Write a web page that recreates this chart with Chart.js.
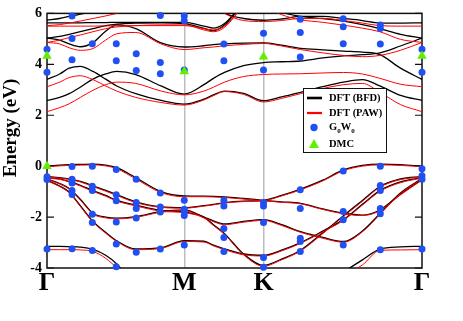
<!DOCTYPE html>
<html><head><meta charset="utf-8">
<script src="https://cdn.jsdelivr.net/npm/chart.js@4.4.0/dist/chart.umd.min.js"></script>
<style>html,body{margin:0;padding:0;background:#fff;}canvas{display:block;}</style>
</head><body>
<canvas id="c" width="463" height="321"></canvas>
<script>
// k-path positions (Γ-M-K-Γ, hexagonal zone, reciprocal units)
const kGrid = [0, 0.08, 0.14, 0.21, 0.29, 0.37, 0.44, 0.56, 0.72, 0.866, 0.99, 1.05, 1.12, 1.24, 1.366, 1.48, 1.60, 1.74, 1.87, 1.99, 2.10, 2.23, 2.366];
const kTicks = [0, 0.866, 1.366, 2.366];
const kLabels = ['Γ', 'M', 'K', 'Γ'];
const yTicks = [6, 4, 2, 0, -2, -4];

// DFT (BFD) bands, energies (eV) on kGrid
const bfdBands = [
  [0.0,0.04,0.06,0.07,0.08,0.04,-0.06,-0.45,-1.0,-1.17,-1.18,-1.19,-1.21,-1.27,-1.34,-1.40,-1.46,-1.68,-1.85,-1.92,-1.72,-1.1,-0.52],
  [-0.41,-0.45,-0.5,-0.6,-0.77,-0.95,-1.12,-1.40,-1.60,-1.63,-1.55,-1.5,-1.43,-1.37,-1.34,-1.15,-0.9,-0.55,-0.15,0.03,0.08,0.06,0.0],
  [-0.45,-0.5,-0.6,-0.75,-0.96,-1.15,-1.34,-1.53,-1.74,-1.8,-2.0,-2.3,-2.65,-3.45,-3.9,-3.65,-3.3,-2.62,-1.95,-1.35,-0.8,-0.5,-0.41],
  [-0.5,-0.68,-0.88,-1.3,-1.85,-2.0,-2.04,-1.98,-1.78,-1.72,-2.0,-2.15,-2.27,-2.17,-2.1,-2.3,-2.57,-2.8,-2.96,-2.55,-1.87,-1.05,-0.48],
  [-0.55,-0.78,-1.02,-1.55,-2.17,-2.6,-2.93,-3.25,-3.2,-2.93,-2.95,-3.1,-3.25,-3.45,-3.5,-3.3,-3.0,-2.55,-2.1,-1.5,-0.96,-0.62,-0.45],
  [-3.15,-3.15,-3.16,-3.18,-3.27,-3.5,-3.84,-4.8,null,null,null,null,null,null,null,null,null,-4.6,-4.15,-3.68,-3.26,-3.17,-3.15],
  [2.58,2.7,2.85,3.1,3.42,3.62,3.72,3.6,3.15,2.83,3.2,3.45,3.68,3.95,4.07,4.1,4.13,4.25,4.33,4.38,4.45,4.72,5.03],
  [3.41,3.62,3.85,3.92,3.72,3.42,3.15,2.85,2.58,2.44,2.63,2.8,2.95,2.86,2.57,2.72,2.9,3.12,3.3,3.4,3.15,2.78,2.58],
  [5.03,4.95,4.8,4.69,4.85,5.3,5.55,5.4,4.84,4.68,4.73,4.77,4.8,4.83,4.84,4.75,4.63,4.57,4.52,4.48,4.38,3.85,3.41],
  [5.03,5.1,5.18,5.28,5.4,5.52,5.58,5.62,5.63,5.6,5.41,5.32,5.54,6.4,7.0,null,null,null,null,null,null,null,null],
  [5.63,5.63,5.63,5.63,5.64,5.64,5.65,5.65,5.65,5.65,5.5,5.42,5.6,6.4,7.0,null,null,null,null,null,null,null,null],
  [5.73,5.8,5.88,5.97,6.1,6.3,6.6,null,null,null,null,null,null,null,null,null,null,null,null,null,null,null,null],
  [null,null,null,null,null,null,null,null,null,null,null,6.4,6.02,5.8,5.73,5.78,5.88,5.88,5.8,5.72,5.62,5.62,5.63],
  [null,null,null,null,null,null,null,null,null,null,null,null,null,null,6.4,6.05,5.88,5.8,5.7,5.56,5.4,5.18,5.03]
];

// DFT (PAW) bands
const pawBands = [
  [-0.02,0.01,0.03,0.04,0.05,0.01,-0.1,-0.5,-1.04,-1.2,-1.2,-1.21,-1.23,-1.29,-1.36,-1.42,-1.48,-1.7,-1.87,-1.94,-1.75,-1.13,-0.55],
  [-0.43,-0.47,-0.52,-0.62,-0.8,-0.98,-1.15,-1.43,-1.62,-1.65,-1.57,-1.52,-1.45,-1.39,-1.36,-1.17,-0.93,-0.58,-0.18,0.0,0.05,0.03,-0.02],
  [-0.47,-0.52,-0.62,-0.78,-0.99,-1.18,-1.37,-1.56,-1.77,-1.83,-2.03,-2.33,-2.68,-3.48,-3.93,-3.68,-3.33,-2.65,-1.98,-1.38,-0.83,-0.53,-0.43],
  [-0.52,-0.7,-0.9,-1.33,-1.88,-2.03,-2.07,-2.01,-1.81,-1.75,-2.03,-2.18,-2.3,-2.2,-2.13,-2.33,-2.6,-2.83,-2.99,-2.58,-1.9,-1.08,-0.5],
  [-0.57,-0.8,-1.05,-1.58,-2.2,-2.63,-2.96,-3.28,-3.23,-2.96,-2.98,-3.13,-3.28,-3.48,-3.53,-3.33,-3.03,-2.58,-2.13,-1.53,-0.99,-0.65,-0.47],
  [-3.28,-3.28,-3.28,-3.29,-3.35,-3.62,-4.0,-4.8,null,null,null,null,null,null,null,null,null,-4.8,-4.3,-3.88,-3.31,-3.29,-3.28],
  [2.14,2.3,2.45,2.7,2.98,3.2,3.3,3.25,2.95,2.8,2.95,3.1,3.3,3.52,3.60,3.62,3.63,3.66,3.68,3.62,3.45,3.22,3.12],
  [3.12,3.3,3.48,3.55,3.4,3.15,2.95,2.7,2.5,2.4,2.6,2.77,2.93,2.82,2.52,2.66,2.85,3.05,3.2,3.25,2.9,2.42,2.14],
  [4.86,4.8,4.65,4.55,4.62,4.95,5.2,5.25,4.8,4.58,4.65,4.68,4.73,4.78,4.82,4.72,4.58,4.45,4.35,4.3,4.35,4.55,4.86],
  [4.86,4.95,5.05,5.15,5.28,5.4,5.47,5.52,5.55,5.55,5.35,5.28,5.45,6.3,7.0,null,null,null,null,null,null,null,null],
  [5.5,5.5,5.5,5.5,5.5,5.51,5.51,5.52,5.52,5.52,5.4,5.35,5.5,6.3,7.0,null,null,null,null,null,null,null,null],
  [5.52,5.56,5.62,5.7,5.8,5.9,6.0,6.2,null,null,null,null,null,null,null,null,null,null,null,null,null,null,null],
  [null,null,null,null,null,null,null,null,null,null,null,6.3,6.0,5.72,5.68,5.72,5.8,5.8,5.72,5.62,5.52,5.5,5.5],
  [null,null,null,null,null,null,null,null,null,null,null,null,null,null,6.3,5.95,5.75,5.65,5.54,5.42,5.28,4.98,4.86]
];

// G0W0 quasiparticle energies at sampled k-points
const gwK = [0, 0.158, 0.286, 0.437, 0.563, 0.715, 0.866, 1.116, 1.366, 1.598, 1.869, 2.103, 2.366];
const gwE = [
  [4.59, 3.69, -0.42, -0.52, -3.25],
  [5.90, 5.01, 4.18, -0.01, -0.51, -0.66, -0.96, -1.11, -3.24],
  [4.81, 0.0, -0.79, -0.96, -1.89, -2.21, -3.31],
  [4.81, 4.14, -0.13, -1.12, -1.36, -2.19, -3.06, -3.95],
  [4.42, 3.76, -0.51, -1.43, -1.66, -2.04, -3.38],
  [5.92, 4.07, 3.63, -1.05, -1.6, -1.8, -3.25],
  [5.90, 5.71, 3.78, -1.34, -1.69, -1.76, -1.94, -3.10],
  [4.80, 4.14, -1.34, -1.56, -2.45, -2.80, -3.35],
  [5.22, 3.78, -1.43, -1.56, -2.21, -3.59, -3.97],
  [5.77, 5.25, 4.29, -0.93, -1.66, -2.83, -2.96, -3.35],
  [5.79, 5.48, 4.81, -0.19, -1.78, -2.10, -3.10],
  [5.54, 5.41, 4.80, 0.0, -0.76, -0.96, -1.66, -1.87, -3.28],
  [4.59, 3.69, -0.10, -0.38, -0.51, -3.25]
];

// DMC gaps
const dmcK = [0, 0, 0.866, 1.366, 2.366];
const dmcE = [4.33, 0.0, 3.72, 4.30, 4.33];

function bandDataset(energies, color, width, order) {
  return {
    type: 'line',
    data: energies.map((e, i) => ({ x: kGrid[i], y: e })),
    borderColor: color, borderWidth: width, pointRadius: 0,
    fill: false, cubicInterpolationMode: 'monotone', spanGaps: false,
    order: order, clip: 0
  };
}

const datasets = [];
bfdBands.forEach(b => datasets.push(bandDataset(b, '#000000', 1.3, 3)));
pawBands.forEach(b => datasets.push(bandDataset(b, '#ff0000', 1.0, 2)));
const gwPoints = [];
gwK.forEach((k, i) => gwE[i].forEach(e => gwPoints.push({ x: k, y: e })));
datasets.push({ type: 'line', showLine: false, data: gwPoints, pointRadius: 3.5, pointBackgroundColor: '#2150f2', pointBorderWidth: 0, order: 1, clip: false });
datasets.push({ type: 'line', showLine: false, data: dmcK.map((k, i) => ({ x: k, y: dmcE[i] })), pointStyle: 'triangle', pointRadius: 5.5, pointBackgroundColor: '#5ef000', pointBorderWidth: 0, order: 0, clip: false });

const deco = {
  id: 'deco',
  beforeDatasetsDraw(chart) {
    const { ctx, chartArea: a, scales } = chart;
    ctx.save();
    ctx.strokeStyle = '#111'; ctx.lineWidth = 1.5;
    ctx.strokeRect(a.left, a.top, a.right - a.left, a.bottom - a.top);
    ctx.lineWidth = 1.2;
    yTicks.forEach(v => {
      const y = scales.y.getPixelForValue(v);
      ctx.beginPath();
      ctx.moveTo(a.left, y); ctx.lineTo(a.left + 7, y);
      ctx.moveTo(a.right - 7, y); ctx.lineTo(a.right, y);
      ctx.stroke();
    });
    ctx.restore();
  },
  afterDraw(chart) {
    const { ctx } = chart;
    ctx.save();
    ctx.translate(11, 128); ctx.rotate(-Math.PI / 2);
    ctx.font = 'bold 19px "Liberation Serif"'; ctx.fillStyle = '#000';
    ctx.textAlign = 'center'; ctx.textBaseline = 'middle';
    ctx.fillText('Energy (eV)', 0, 0);
    ctx.restore();
    ctx.save();
    ctx.fillStyle = '#fff'; ctx.fillRect(303, 88, 83, 64);
    ctx.strokeStyle = '#111'; ctx.lineWidth = 1; ctx.strokeRect(303.5, 88.5, 83, 64);
    ctx.lineWidth = 2.6; ctx.strokeStyle = '#000';
    ctx.beginPath(); ctx.moveTo(307, 98); ctx.lineTo(322, 98); ctx.stroke();
    ctx.strokeStyle = '#ff0000'; ctx.lineWidth = 2.2;
    ctx.beginPath(); ctx.moveTo(307, 113); ctx.lineTo(322, 113); ctx.stroke();
    ctx.fillStyle = '#2150f2'; ctx.beginPath(); ctx.arc(314, 127.5, 3.7, 0, Math.PI * 2); ctx.fill();
    ctx.fillStyle = '#5ef000'; ctx.beginPath(); ctx.moveTo(314, 139); ctx.lineTo(319, 148); ctx.lineTo(309, 148); ctx.closePath(); ctx.fill();
    ctx.fillStyle = '#000'; ctx.textBaseline = 'middle'; ctx.textAlign = 'left';
    ctx.font = 'bold 10.5px "Liberation Serif"';
    ctx.fillText('DFT (BFD)', 329, 98);
    ctx.fillText('DFT (PAW)', 329, 113);
    ctx.fillText('DMC', 329, 144);
    let x = 329;
    ctx.fillText('G', x, 127); x += ctx.measureText('G').width;
    ctx.font = 'bold 7px "Liberation Serif"'; ctx.fillText('0', x, 131); x += ctx.measureText('0').width;
    ctx.font = 'bold 10.5px "Liberation Serif"'; ctx.fillText('W', x, 127); x += ctx.measureText('W').width;
    ctx.font = 'bold 7px "Liberation Serif"'; ctx.fillText('0', x, 131);
    ctx.restore();
  }
};

new Chart(document.getElementById('c'), {
  type: 'line',
  data: { datasets },
  plugins: [deco],
  options: {
    responsive: false, animation: false, events: [],
    layout: { padding: { left: 0, right: 41, top: 6, bottom: 0 } },
    plugins: { legend: { display: false }, tooltip: { enabled: false } },
    scales: {
      x: {
        type: 'linear', min: 0, max: 2.366,
        afterBuildTicks: s => { s.ticks = kTicks.map(v => ({ value: v })); },
        afterFit: s => { s.height = 53; },
        ticks: { autoSkip: false, maxRotation: 0, padding: 0, color: '#000',
          font: { family: 'Liberation Serif', size: 26, weight: 'bold' },
          callback: (v, i) => kLabels[i] },
        grid: { drawTicks: false, lineWidth: 1.5,
          color: c => (c.index === 1 || c.index === 2) ? '#bdbdbd' : 'rgba(0,0,0,0)' },
        border: { display: false }
      },
      y: {
        type: 'linear', min: -4, max: 6,
        afterBuildTicks: s => { s.ticks = yTicks.map(v => ({ value: v })); },
        afterFit: s => { s.width = 47; },
        ticks: { padding: 5, color: '#000', font: { family: 'Liberation Serif', size: 14, weight: 'bold' } },
        grid: { display: false, drawTicks: false },
        border: { display: false }
      }
    }
  }
});
</script>
</body></html>
